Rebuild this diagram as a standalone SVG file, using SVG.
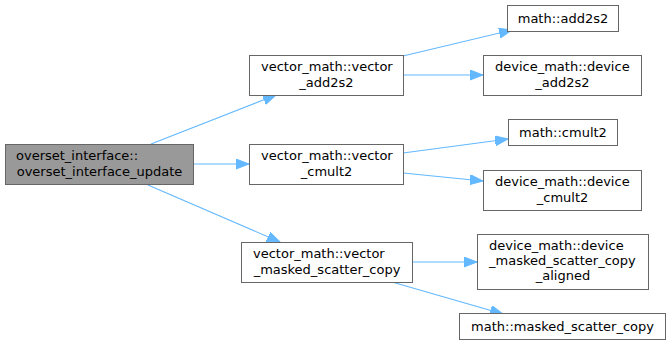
<svg xmlns="http://www.w3.org/2000/svg" width="671" height="344" viewBox="0 0 671 344">
<style>
.node rect{fill:#ffffff;stroke:#666666;stroke-width:1}
.node.root rect{fill:#999999}
text{font-family:"DejaVu Sans","Liberation Sans",sans-serif;font-size:13px;fill:#000000}
.m{text-anchor:middle}
.s{text-anchor:start}
.edges path{fill:none;stroke:#63b8ff;stroke-width:1.1;marker-end:url(#arr)}
</style>
<defs>
<marker id="arr" markerUnits="userSpaceOnUse" markerWidth="14" markerHeight="11" refX="13" refY="5" orient="auto">
<path d="M0,0 L13,5 L0,10 z" fill="#63b8ff" stroke="#63b8ff" stroke-width="1"/>
</marker>
</defs>
<g id="edges" class="edges">
<path d="M151,144 L276,95"/>
<path d="M193,164 L249,164"/>
<path d="M148,185 L280,242"/>
<path d="M403,56 L512,30"/>
<path d="M403,75 L483,75"/>
<path d="M403,153 L508,139"/>
<path d="M403,173 L483,181"/>
<path d="M412,262 L477,262"/>
<path d="M392,282 L503,314"/>
</g>
<g id="node_root" class="node root">
<rect x="5.5" y="144.5" width="188" height="40"/>
<text class="s" x="16" y="160">overset_interface::</text>
<text class="m" x="99.5" y="175.5">overset_interface_update</text>
</g>
<g id="node_vector_add2s2" class="node">
<rect x="249.5" y="55.5" width="154" height="40"/>
<text class="s" x="261" y="71">vector_math::vector</text>
<text class="m" x="326.5" y="86.5">_add2s2</text>
</g>
<g id="node_vector_cmult2" class="node">
<rect x="249.5" y="144.5" width="154" height="40"/>
<text class="s" x="261" y="160">vector_math::vector</text>
<text class="m" x="326.5" y="175.5">_cmult2</text>
</g>
<g id="node_vector_masked" class="node">
<rect x="241.5" y="242.5" width="171" height="40"/>
<text class="s" x="253" y="258">vector_math::vector</text>
<text class="m" x="327" y="273.5">_masked_scatter_copy</text>
</g>
<g id="node_math_add2s2" class="node">
<rect x="507.5" y="5.5" width="111" height="26"/>
<text class="m" x="563" y="22.5">math::add2s2</text>
</g>
<g id="node_device_add2s2" class="node">
<rect x="483.5" y="55.5" width="158" height="40"/>
<text class="s" x="495" y="71">device_math::device</text>
<text class="m" x="562.5" y="86.5">_add2s2</text>
</g>
<g id="node_math_cmult2" class="node">
<rect x="508.5" y="119.5" width="109" height="26"/>
<text class="m" x="563" y="136.5">math::cmult2</text>
</g>
<g id="node_device_cmult2" class="node">
<rect x="483.5" y="170.5" width="158" height="40"/>
<text class="s" x="495" y="186">device_math::device</text>
<text class="m" x="562.5" y="201.5">_cmult2</text>
</g>
<g id="node_device_masked_aligned" class="node">
<rect x="477.5" y="234.5" width="171" height="55"/>
<text class="s" x="489" y="250">device_math::device</text>
<text class="s" x="489" y="265">_masked_scatter_copy</text>
<text class="m" x="563" y="280">_aligned</text>
</g>
<g id="node_math_masked" class="node">
<rect x="459.5" y="313.5" width="206" height="26"/>
<text class="m" x="562.5" y="330.5">math::masked_scatter_copy</text>
</g>
</svg>
